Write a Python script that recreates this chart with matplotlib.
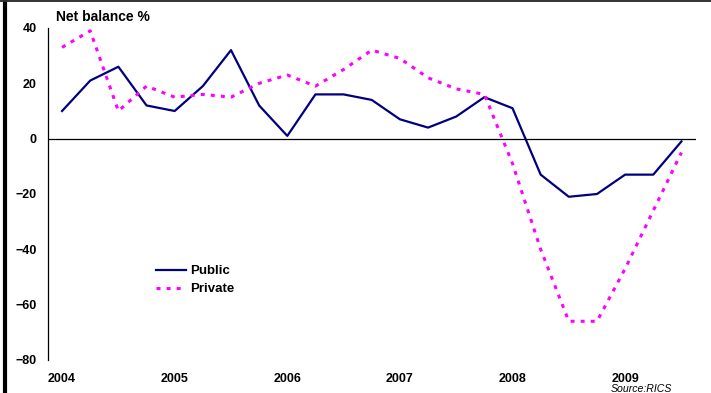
import matplotlib
matplotlib.use("Agg")
import matplotlib.pyplot as plt
from matplotlib.lines import Line2D
import numpy as np

plt.rcParams['font.family'] = ['Liberation Sans', 'DejaVu Sans']

# quarterly net balance, 2004 Q1 - 2009 Q3
years = ['2004', '2005', '2006', '2007', '2008', '2009']
public = [10, 21, 26, 12, 10, 19, 32, 12, 1, 16, 16, 14,
          7, 4, 8, 15, 11, -13, -21, -20, -13, -13, -1]
private = [33, 39, 10, 19, 15, 16, 15, 20, 23, 19, 25, 32,
           29, 22, 18, 16, -9, -40, -66, -66, -47, -26, -5]

x = np.arange(len(public))

fig = plt.figure(figsize=(7.11, 3.93), dpi=100)
ax = fig.add_axes([48 / 711, 1 - 360 / 393, 647.5 / 711, 332 / 393])

ax.plot(x, public, color='#000080', lw=1.6, label='Public')
ax.plot(x, private, color='#FF00FF', lw=2.2, dashes=(1.3, 2.0), label='Private')

ax.axhline(0, color='black', lw=0.9)

ax.set_xlim(-0.5, 22.5)
ax.set_ylim(-80, 40)
ax.set_yticks(range(-80, 41, 20))
ax.set_xticks(x[::4])
ax.set_xticklabels(years)

for s in ['top', 'right', 'bottom']:
    ax.spines[s].set_visible(False)
ax.spines['left'].set_linewidth(0.9)

ax.tick_params(axis='y', length=0, pad=8, labelsize=9)
ax.tick_params(axis='x', length=0, pad=9, labelsize=9)
for lab in ax.get_xticklabels() + ax.get_yticklabels():
    lab.set_fontweight('bold')

ax.text(56 / 711, 1 - 17 / 393, 'Net balance %', transform=fig.transFigure,
        fontsize=10, fontweight='bold', ha='left', va='center')
fig.text(611 / 711, 1 - 391.5 / 393, 'Source:RICS', fontsize=7.6,
         fontstyle='italic', ha='left', va='baseline')

leg = ax.legend(loc='upper left', bbox_to_anchor=(0.167, 0.286), frameon=False,
                fontsize=9.5, handlelength=2.3, handletextpad=0.3,
                labelspacing=0.43, borderpad=0, borderaxespad=0)
for t in leg.get_texts():
    t.set_fontweight('bold')

# outer frame: thick rule on the left, thin rule on top
fig.add_artist(Line2D([5 / 711, 5 / 711], [0, 1], color='black', lw=3,
                      transform=fig.transFigure))
fig.add_artist(Line2D([0, 1], [1 - 1 / 393, 1 - 1 / 393], color='#333333', lw=1.4,
                      transform=fig.transFigure))

fig.savefig('out.png', dpi=100)
